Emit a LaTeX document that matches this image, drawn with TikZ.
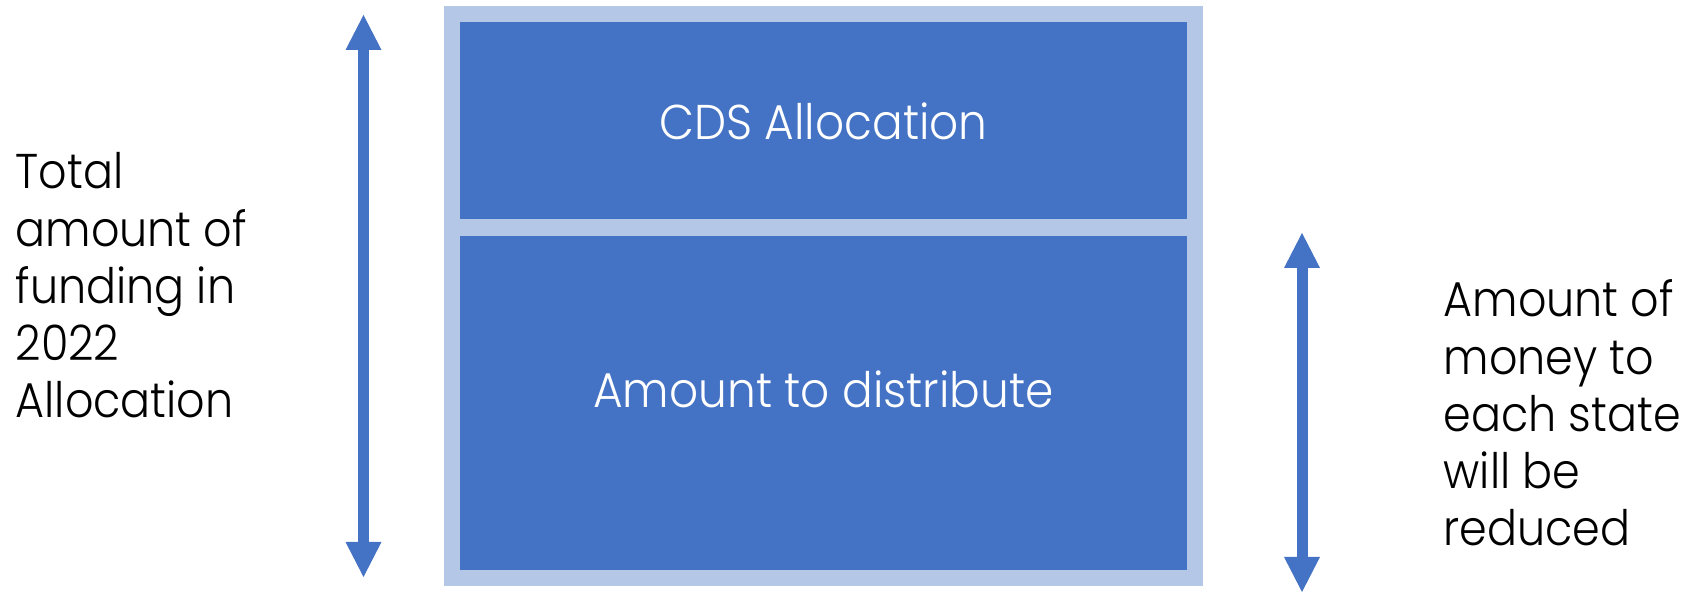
\documentclass[tikz,border=0pt]{standalone}
\usepackage{fontspec}
\setmainfont{Poppins Light}[FakeStretch=0.93]
\newfontfamily\sidefont{Poppins Light}[FakeStretch=0.91]
\usetikzlibrary{arrows.meta,positioning}
\definecolor{barblue}{RGB}{68,114,196}
\definecolor{paleblue}{RGB}{180,199,231}

\begin{document}
\begin{tikzpicture}
\tikzstyle{frame}=[fill=paleblue,inner sep=0pt,minimum width=7.59cm,minimum height=5.80cm]
\tikzstyle{part}=[fill=barblue,inner sep=0pt,minimum width=7.27cm]
\tikzstyle{boxtext}=[font=\fontsize{13.9}{16.3}\selectfont,text=white,inner sep=0pt]
\tikzstyle{sidetext}=[font=\sidefont\fontsize{13.9}{16.3}\selectfont,align=left,inner sep=0pt]
\tikzstyle{span}=[<->,>={Triangle[width=3.6mm,length=3.5mm,line width=0pt]},line width=1.1mm,draw=barblue]
\useasboundingbox (0,0) rectangle (16.86,5.93);

% the stacked budget
\node [frame] at (8.235,2.97) (frame) {};
\node [part,minimum height=1.97cm] at (8.235,4.725) (cds) {};
\node [part,minimum height=3.34cm] at (8.235,1.90) (dist) {};
\node [boxtext,anchor=base] at (8.235,4.53) (cdslbl) {CDS Allocation};
\node [boxtext,anchor=base] at (8.235,1.85) (distlbl) {Amount to distribute};

% whole and reduced spans
\coordinate (ltop) at (3.635,5.78);
\coordinate (lbot) at (3.635,0.16);
\coordinate (rtop) at (13.02,3.60);
\coordinate (rbot) at (13.02,0.01);
\draw [span] (ltop) -- (lbot);
\draw [span] (rtop) -- (rbot);

% base anchor sits on the last line
\node [sidetext,anchor=base west] at (0.15,1.75) (total) {Total\\amount of\\funding in\\2022\\Allocation};
\node [sidetext,anchor=base west] at (14.43,0.47) (reduced) {Amount of\\money to\\each state\\will be\\reduced};
\end{tikzpicture}
\end{document}
